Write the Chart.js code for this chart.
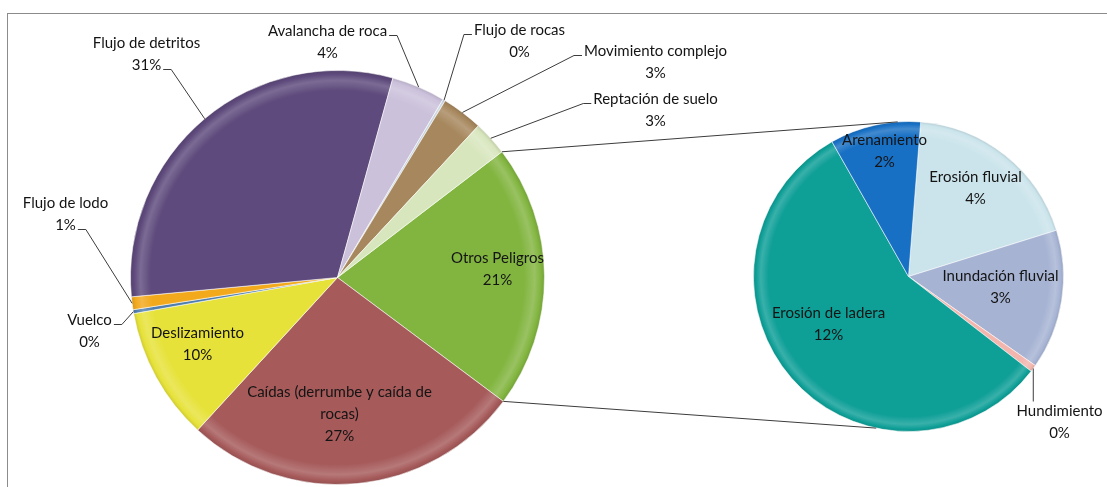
<!DOCTYPE html>
<html>
<head>
<meta charset="utf-8">
<script src="https://cdn.jsdelivr.net/npm/chart.js@4.4.1/dist/chart.umd.min.js"></script>
<style>
  html, body { margin: 0; padding: 0; background: #fff; overflow: hidden; }
  #wrap { position: relative; width: 1107px; height: 487px; }
  #frame { position: absolute; left: 7px; top: 13px; width: 1110px; height: 480px;
           border-left: 1px solid #8c8c8c; border-top: 1px solid #8c8c8c; }
  canvas { position: absolute; left: 0; top: 0; }
</style>
</head>
<body>
<div id="wrap">
  <div id="frame"></div>
  <canvas id="mainPie" width="1107" height="487"></canvas>
  <canvas id="subPie" width="1107" height="487"></canvas>
</div>
<script>
// Datos: pie principal (sentido horario desde "Otros Peligros")
const mainLabels = ['Otros Peligros', 'Caídas (derrumbe y caída de rocas)', 'Deslizamiento', 'Vuelco',
  'Flujo de lodo', 'Flujo de detritos', 'Avalancha de roca', 'Flujo de rocas',
  'Movimiento complejo', 'Reptación de suelo'];
const mainValues = [20.6, 26.6, 10.4, 0.3, 1.0, 30.8, 4.2, 0.2, 3.2, 2.7];
const mainColors = ['#82B540', '#A65A5A', '#E6E23A', '#4F7EAE', '#F2A91C', '#5E4A7C',
  '#CBC1DB', '#C9D6E2', '#A7885E', '#D8E6BE'];

// Datos: pie secundario (desglose de "Otros Peligros")
const subLabels = ['Erosión fluvial', 'Inundación fluvial', 'Hundimiento', 'Erosión de ladera', 'Arenamiento'];
const subValues = [3.9, 3.0, 0.15, 11.6, 1.95];
const subColors = ['#CBE4EB', '#A6B3D3', '#F2B6AE', '#0E9F97', '#1870C4'];

const TOTAL = 100;
const LINE = 22;
const FONT = '15px Lato';

// posicion de etiquetas relativa al centro del pie
const mainLabelPos = [
  { dx: 160, dy: -8 },
  { dx: 2, dy: 137 },
  { dx: -140, dy: 67 },
  { dx: -248, dy: 54, leader: 'stub', line: 0 },
  { dx: -272, dy: -63, leader: 'stub', line: 1 },
  { dx: -191, dy: -223, leader: 'stub', line: 1 },
  { dx: -10, dy: -235, leader: 'stub', line: 0 },
  { dx: 182, dy: -236, leader: 'stub', line: 0 },
  { dx: 318, dy: -215, leader: 'stub', line: 0 },
  { dx: 318, dy: -167, leader: 'stub', line: 0 }
];
const subLabelPos = [
  { dx: 67, dy: -88 },
  { dx: 92, dy: 11 },
  { dx: 151, dy: 146, leader: 'down' },
  { dx: -80, dy: 48 },
  { dx: -24, dy: -125 }
];
const connectorAngles = [-4, 192]; // grados desde arriba en el pie secundario

function shade(hex, amt) {
  const n = parseInt(hex.slice(1), 16);
  let r = n >> 16, g = (n >> 8) & 255, b = n & 255;
  const t = amt > 0 ? 255 : 0, p = Math.abs(amt);
  r = Math.round(r + (t - r) * p); g = Math.round(g + (t - g) * p); b = Math.round(b + (t - b) * p);
  return `rgb(${r},${g},${b})`;
}

function bevel(colors) {
  return (c) => {
    const base = colors[c.dataIndex];
    const a = c.chart.chartArea;
    if (!a) return base;
    const cx = (a.left + a.right) / 2, cy = (a.top + a.bottom) / 2;
    const r = Math.min(a.width, a.height) / 2;
    const g = c.chart.ctx.createRadialGradient(cx, cy, 0, cx, cy, r);
    g.addColorStop(0, base);
    g.addColorStop(0.9, base);
    g.addColorStop(0.95, shade(base, 0.18));
    g.addColorStop(0.98, base);
    g.addColorStop(1, shade(base, -0.12));
    return g;
  };
}

function wrap(ctx, text, maxW) {
  const words = text.split(' ');
  const out = [];
  let cur = '';
  words.forEach(w => {
    const t = cur ? cur + ' ' + w : w;
    if (ctx.measureText(t).width > maxW && cur) { out.push(cur); cur = w; }
    else cur = t;
  });
  out.push(cur);
  return out;
}

function labelPlugin(pos) {
  return {
    id: 'etiquetas',
    afterDatasetsDraw(chart) {
      const ctx = chart.ctx;
      const meta = chart.getDatasetMeta(0);
      const labels = chart.data.labels;
      const values = chart.data.datasets[0].data;
      ctx.save();
      ctx.font = FONT;
      ctx.textAlign = 'center';
      ctx.textBaseline = 'middle';
      meta.data.forEach((arc, i) => {
        const p = pos[i];
        const lines = wrap(ctx, labels[i], 210);
        lines.push(Math.round(values[i] / TOTAL * 100) + '%');
        const cx = arc.x + p.dx, cy = arc.y + p.dy;
        const top = cy - (lines.length - 1) * LINE / 2;
        ctx.fillStyle = '#141414';
        lines.forEach((t, k) => ctx.fillText(t, cx, top + k * LINE));
        if (!p.leader) return;
        const mid = (arc.startAngle + arc.endAngle) / 2;
        const ex = arc.x + Math.cos(mid) * arc.outerRadius;
        const ey = arc.y + Math.sin(mid) * arc.outerRadius;
        ctx.strokeStyle = '#3c3c3c';
        ctx.lineWidth = 1;
        ctx.beginPath();
        if (p.leader === 'stub') {
          const w = ctx.measureText(lines[p.line]).width;
          const ly = top + p.line * LINE + 4;
          const sx0 = cx < ex ? cx + w / 2 + 2 : cx - w / 2 - 2;
          const sx1 = cx < ex ? sx0 + 8 : sx0 - 8;
          ctx.moveTo(sx0, ly);
          ctx.lineTo(sx1, ly);
          ctx.lineTo(ex, ey);
        } else {
          ctx.moveTo(ex, ey);
          ctx.lineTo(ex, top - 10);
        }
        ctx.stroke();
      });
      ctx.restore();
    }
  };
}

function pieOptions(rotation, padding) {
  return {
    responsive: false,
    animation: false,
    events: [],
    rotation: rotation,
    layout: { padding: padding },
    plugins: { legend: { display: false }, tooltip: { enabled: false } }
  };
}

const mainChart = new Chart(document.getElementById('mainPie'), {
  type: 'pie',
  data: {
    labels: mainLabels,
    datasets: [{
      data: mainValues,
      backgroundColor: bevel(mainColors),
      borderColor: 'rgba(255,255,255,0.55)',
      borderWidth: 1,
      hoverOffset: 0
    }]
  },
  options: pieOptions(52.6, { left: 130, top: 70, right: 562, bottom: 2 }),
  plugins: [labelPlugin(mainLabelPos)]
});

// lineas que unen el sector "Otros Peligros" con el pie secundario
const connectors = {
  id: 'conectores',
  afterDraw(chart) {
    const src = mainChart.getDatasetMeta(0).data[0];
    const dst = chart.getDatasetMeta(0).data[0];
    const ctx = chart.ctx;
    const starts = [src.startAngle, src.endAngle];
    ctx.save();
    ctx.strokeStyle = '#3c3c3c';
    ctx.lineWidth = 1;
    starts.forEach((a, k) => {
      const b = (connectorAngles[k] - 90) * Math.PI / 180;
      ctx.beginPath();
      ctx.moveTo(src.x + Math.cos(a) * src.outerRadius, src.y + Math.sin(a) * src.outerRadius);
      ctx.lineTo(dst.x + Math.cos(b) * dst.outerRadius, dst.y + Math.sin(b) * dst.outerRadius);
      ctx.stroke();
    });
    ctx.restore();
  }
};

new Chart(document.getElementById('subPie'), {
  type: 'pie',
  data: {
    labels: subLabels,
    datasets: [{
      data: subValues,
      backgroundColor: bevel(subColors),
      borderColor: 'rgba(255,255,255,0.55)',
      borderWidth: 1,
      hoverOffset: 0
    }]
  },
  options: pieOptions(4.5, { left: 753, top: 121, right: 43, bottom: 55 }),
  plugins: [labelPlugin(subLabelPos), connectors]
});
</script>
</body>
</html>
